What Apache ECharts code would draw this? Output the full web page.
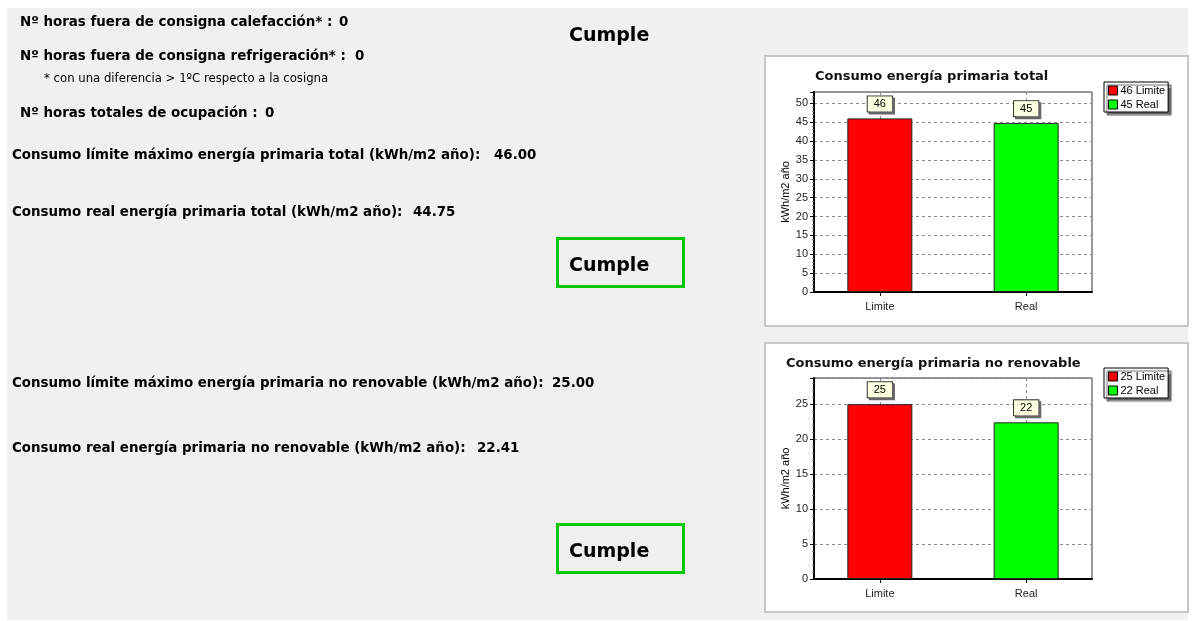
<!DOCTYPE html>
<html>
<head>
<meta charset="utf-8">
<script src="https://cdn.jsdelivr.net/npm/echarts@6/dist/echarts.min.js"></script>
<style>
html,body{margin:0;padding:0;background:#fff;}
#main{width:1192px;height:621px;}
</style>
</head>
<body>
<div id="main"></div>
<script>
// ---- data ----
const categories = ['Limite', 'Real'];
const totalValues = [46.00, 44.75];          // kWh/m2 año, energía primaria total
const noRenovValues = [25.00, 22.41];        // kWh/m2 año, energía primaria no renovable
const hoursValues = [0, 0, 0];               // calefacción, refrigeración, ocupación
const chartTitles = ['Consumo energía primaria total', 'Consumo energía primaria no renovable'];
const axisName = 'kWh/m2 año';
const yMaxTotal = 53;
const yMaxNoRenov = 28.75;
const yInterval = 5;
const xRange = [-0.45, 1.45];
const verdict = 'Cumple';

const colors = ['#ff0000', '#00ff00'];
const BOLD = 'bold 13.4px "DejaVu Sans"';
const BIG = 'bold 19px "DejaVu Sans"';
const AX = '"Liberation Sans", Arial, sans-serif';

const chart = echarts.init(document.getElementById('main'), null, {renderer: 'canvas'});

function txt(text, x, y, font) {
  return {
    type: 'text', z: 10,
    style: {text: text, x: x, y: y, font: font || BOLD, fill: '#000', verticalAlign: 'middle'}
  };
}

const graphics = [
  {type: 'rect', z: -100, shape: {x: 7, y: 8, width: 1181, height: 612}, style: {fill: '#f0f0f0'}},
  {type: 'rect', z: -90, shape: {x: 765, y: 56, width: 423, height: 270}, style: {fill: '#fff', stroke: '#c8c8c8', lineWidth: 2}},
  {type: 'rect', z: -90, shape: {x: 765, y: 343, width: 423, height: 269}, style: {fill: '#fff', stroke: '#c8c8c8', lineWidth: 2}},
  txt('Nº horas fuera de consigna calefacción* :', 20, 23),
  txt(String(hoursValues[0]), 339, 23),
  txt('Nº horas fuera de consigna refrigeración* :', 20, 57),
  txt(String(hoursValues[1]), 355, 57),
  txt('* con una diferencia > 1ºC respecto a la cosigna', 44, 79, '11.7px "DejaVu Sans"'),
  txt('Nº horas totales de ocupación :', 20, 114),
  txt(String(hoursValues[2]), 265, 114),
  txt(verdict, 569, 36, BIG),
  txt('Consumo límite máximo energía primaria total (kWh/m2 año):', 12, 156),
  txt(totalValues[0].toFixed(2), 494, 156),
  txt('Consumo real energía primaria total (kWh/m2 año):', 12, 213),
  txt(totalValues[1].toFixed(2), 413, 213),
  {type: 'rect', z: 5, shape: {x: 557.5, y: 238.5, width: 126, height: 48}, style: {fill: 'none', stroke: '#00c800', lineWidth: 3}},
  txt(verdict, 569, 266, BIG),
  txt('Consumo límite máximo energía primaria no renovable (kWh/m2 año):', 12, 384),
  txt(noRenovValues[0].toFixed(2), 552, 384),
  txt('Consumo real energía primaria no renovable (kWh/m2 año):', 12, 449),
  txt(noRenovValues[1].toFixed(2), 477, 449),
  {type: 'rect', z: 5, shape: {x: 557.5, y: 524.5, width: 126, height: 48}, style: {fill: 'none', stroke: '#00c800', lineWidth: 3}},
  txt(verdict, 569, 552, BIG)
];

function makeSeries(values, gi) {
  return categories.map(function (cat, i) {
    return {
      name: cat, type: 'bar', xAxisIndex: gi, yAxisIndex: gi,
      data: [[i, values[i]]], barWidth: 65, barGap: '-100%',
      itemStyle: {color: colors[i], borderColor: '#222', borderWidth: 1},
      label: {
        show: true, position: 'top', distance: 7,
        formatter: function (p) { return String(Math.round(p.value[1])); },
        fontFamily: AX, fontSize: 11, color: '#000', lineHeight: 12,
        backgroundColor: '#ffffe1', borderColor: '#333', borderWidth: 1,
        padding: [2, 6, 1, 6],
        shadowColor: '#666', shadowOffsetX: 2, shadowOffsetY: 2, shadowBlur: 0
      }
    };
  });
}

function makeLegend(values, top) {
  return {
    orient: 'vertical', left: 1104, top: top,
    data: categories.map(function (c) { return {name: c, icon: 'rect'}; }),
    formatter: function (name) { return Math.round(values[categories.indexOf(name)]) + ' ' + name; },
    itemWidth: 9, itemHeight: 9, itemGap: 1, itemStyle: {borderColor: '#000', borderWidth: 1},
    padding: [2, 3, 1, 4],
    backgroundColor: '#fff', borderColor: '#000', borderWidth: 1,
    shadowColor: '#666', shadowOffsetX: 3, shadowOffsetY: 3, shadowBlur: 1,
    textStyle: {fontFamily: AX, fontSize: 11, color: '#000', lineHeight: 13, padding: [0, 0, 0, -2]},
    selectedMode: false
  };
}

const catIdx = categories.map(function (c, i) { return i; });

function xAx(gi) {
  return {
    type: 'value', gridIndex: gi, min: xRange[0], max: xRange[1],
    axisLine: {show: true, onZero: false, lineStyle: {color: '#000', width: 2}},
    axisTick: {show: true, customValues: catIdx, length: 4, lineStyle: {color: '#000'}},
    axisLabel: {customValues: catIdx, fontFamily: AX, fontSize: 11, color: '#222', margin: 9,
      formatter: function (v) { return categories[Math.round(v)] || ''; }},
    splitLine: {show: true, lineStyle: {color: '#888', type: [3, 3], width: 1}}
  };
}
function yAx(gi, max) {
  return {
    type: 'value', gridIndex: gi, min: 0, max: max, interval: yInterval,
    name: axisName, nameLocation: 'middle', nameGap: 23,
    nameTextStyle: {fontFamily: AX, fontSize: 11, color: '#000'},
    axisLine: {show: true, onZero: false, lineStyle: {color: '#000', width: 2}},
    axisTick: {show: true, length: 4, lineStyle: {color: '#000'}},
    minorTick: {show: true, splitNumber: 5, length: 2, lineStyle: {color: '#777'}},
    axisLabel: {fontFamily: AX, fontSize: 11, color: '#222', margin: 6, showMaxLabel: false},
    splitLine: {show: true, lineStyle: {color: '#888', type: [3, 3], width: 1}}
  };
}

const option = {
  animation: false,
  title: [
    {text: chartTitles[0], left: 815, top: 70, padding: 0, textStyle: {fontFamily: 'DejaVu Sans', fontWeight: 'bold', fontSize: 13, color: '#111'}},
    {text: chartTitles[1], left: 786, top: 357, padding: 0, textStyle: {fontFamily: 'DejaVu Sans', fontWeight: 'bold', fontSize: 13, color: '#111'}}
  ],
  legend: [makeLegend(totalValues, 82), makeLegend(noRenovValues, 368)],
  grid: [
    {left: 814, top: 92, width: 278, height: 200, show: true, backgroundColor: '#fff', borderColor: '#333', borderWidth: 1},
    {left: 814, top: 378, width: 278, height: 201, show: true, backgroundColor: '#fff', borderColor: '#333', borderWidth: 1}
  ],
  xAxis: [xAx(0), xAx(1)],
  yAxis: [yAx(0, yMaxTotal), yAx(1, yMaxNoRenov)],
  series: makeSeries(totalValues, 0).concat(makeSeries(noRenovValues, 1)),
  graphic: graphics
};
chart.setOption(option);
</script>
</body>
</html>
